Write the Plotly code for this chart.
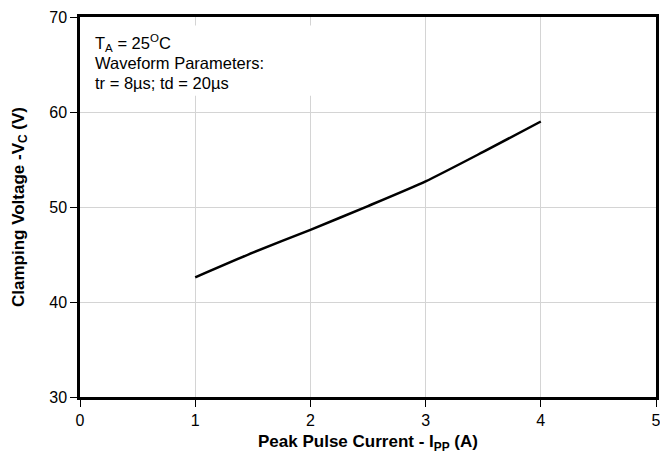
import plotly.graph_objects as go

current_a = [1.0, 1.5, 2.0, 2.5, 3.0, 3.5, 4.0]
clamp_v = [42.6, 45.2, 47.6, 50.1, 52.7, 55.8, 59.0]

x_ticks = [0, 1, 2, 3, 4, 5]
y_ticks = [30, 40, 50, 60, 70]

FONT = "Liberation Sans, Arial, sans-serif"

fig = go.Figure()
fig.add_trace(go.Scatter(
    x=current_a, y=clamp_v, mode="lines",
    line=dict(color="black", width=2.5, shape="spline", smoothing=0.6),
    showlegend=False, hoverinfo="skip",
))

# white box behind the condition text (hides gridlines)
fig.add_shape(type="rect", xref="x", yref="y", x0=0.02, x1=2.1, y0=61.7, y1=69.1,
              fillcolor="white", line=dict(width=0), layer="between")

lines = [
    "T<sub>A</sub> = 25<sup>O</sup>C",
    "Waveform Parameters:",
    "tr = 8µs; td = 20µs",
]
ypos = [0.931, 0.880, 0.827]
for t, yy in zip(lines, ypos):
    fig.add_annotation(text=t, xref="paper", yref="paper", x=0.0226, y=yy,
                       xanchor="left", yanchor="middle", showarrow=False,
                       font=dict(family=FONT, size=16.5, color="black"))

axis_common = dict(
    showline=True, linecolor="black", linewidth=2.5, mirror=True,
    ticks="outside", ticklen=7, tickcolor="black", tickwidth=1,
    showgrid=True, gridcolor="#d4d4d4", gridwidth=1,
    zeroline=False, automargin=False, ticklabeloverflow="allow",
    tickfont=dict(family=FONT, size=16, color="black"),
)

fig.update_xaxes(range=[0, 5], tickvals=x_ticks, ticktext=[str(v) for v in x_ticks],
                 title=dict(text="<b>Peak Pulse Current - I<sub>PP</sub> (A)</b>",
                            font=dict(family=FONT, size=17, color="black"), standoff=8),
                 **axis_common)
fig.update_yaxes(range=[30, 70], tickvals=y_ticks, ticktext=[str(v) for v in y_ticks],
                 title=dict(text="<b>Clamping Voltage -V<sub>C</sub> (V)</b>",
                            font=dict(family=FONT, size=17, color="black"), standoff=21),
                 **axis_common)

fig.update_layout(
    width=660, height=459,
    margin=dict(l=80, r=4, t=17, b=62),
    paper_bgcolor="white", plot_bgcolor="white",
    font=dict(family=FONT, size=16, color="black"),
)

# remove the browser's default 8px page margin so the figure fills the window
fig.write_html(
    "out.html",
    config={"displayModeBar": False},
    post_script="document.body.style.margin='0';document.body.style.overflow='hidden';",
)
